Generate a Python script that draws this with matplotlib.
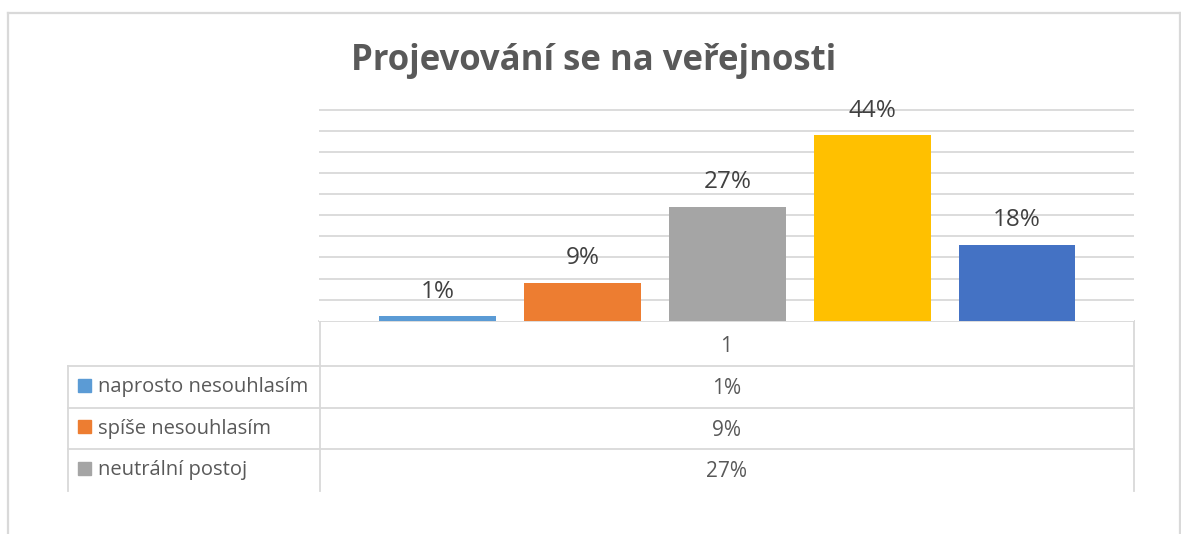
#!/usr/bin/env python3
"""Excel-style column chart with a data table underneath: 'Projevování se na veřejnosti'."""
import matplotlib
matplotlib.use("Agg")
import matplotlib.pyplot as plt
import matplotlib.patches as mpatches
import numpy as np

# --- data -------------------------------------------------------------------
TITLE = "Projevování se na veřejnosti"
CATEGORY = "1"
SERIES = ["naprosto nesouhlasím", "spíše nesouhlasím", "neutrální postoj",
          "spíše souhlasím", "naprosto souhlasím"]
VALUES = [1, 9, 27, 44, 18]          # percent
COLORS = ["#5B9BD5", "#ED7D31", "#A5A5A5", "#FFC000", "#4472C4"]
VISIBLE_ROWS = 3                     # the table is cut off after the third series

# --- layout (pixels, measured from top-left of the 1181x534 image) ----------
W, H = 1181, 534
PLOT_L, PLOT_R = 319, 1134
BASE_Y, TOP50_Y = 320.7, 110        # y of 0 % and 50 %
HEADER_B = 366
ROW_H = 41.5
LEG_L = 68
GRID = "#d9d9d9"
TXT = "#595959"

plt.rcParams["font.family"] = ["Open Sans", "DejaVu Sans"]

fig = plt.figure(figsize=(W / 100, H / 100), dpi=100)

# overlay axes in pixel coordinates for frame + data table
ov = fig.add_axes([0, 0, 1, 1])
ov.set_xlim(0, W)
ov.set_ylim(H, 0)
ov.axis("off")

# chart-area frame
ov.plot([7.5, W], [13.3, 13.3], color=GRID, lw=1.6)
ov.plot([7.5, 7.5], [13.3, H], color=GRID, lw=1.6)
ov.plot([1180, 1180], [13.3, H], color=GRID, lw=1.6)

# title
ov.text(594, 70, TITLE, ha="center", va="baseline", fontsize=25,
        fontweight="bold", color=TXT)

# --- bars -------------------------------------------------------------------
px_per_unit = (BASE_Y - TOP50_Y) / 50
top_px = TOP50_Y - 2
ax = fig.add_axes([PLOT_L / W, 1 - BASE_Y / H,
                   (PLOT_R - PLOT_L) / W, (BASE_Y - top_px) / H])
ax.set_ylim(0, (BASE_Y - top_px) / px_per_unit)
x = np.arange(len(VALUES))
ax.set_xlim(-0.819, 4.806)
ax.bar(x, VALUES, width=0.804, color=COLORS, zorder=3)
ax.set_yticks(np.arange(5, 55, 5))
ax.yaxis.grid(True, color=GRID, lw=1.3)
ax.set_axisbelow(True)
ax.tick_params(left=False, bottom=False, labelleft=False, labelbottom=False)
for s in ax.spines.values():
    s.set_visible(False)
for xi, v in zip(x, VALUES):
    ax.annotate(f"{v}%", xy=(xi, v), xytext=(0, 13.5), textcoords="offset points",
                ha="center", va="baseline", fontsize=17.5, color="#404040")

# --- data table -------------------------------------------------------------
n_rows = VISIBLE_ROWS
table_b = HEADER_B + ROW_H * n_rows
ov.plot([PLOT_L, PLOT_R], [BASE_Y, BASE_Y], color=GRID, lw=1.3)
ov.plot([PLOT_L + 1, PLOT_L + 1], [BASE_Y, table_b], color=GRID, lw=1.3)
ov.plot([PLOT_R, PLOT_R], [BASE_Y, table_b], color=GRID, lw=1.3)
ov.plot([LEG_L, LEG_L], [HEADER_B, table_b], color=GRID, lw=1.3)
for r in range(n_rows):
    yl = HEADER_B + ROW_H * r
    ov.plot([LEG_L, PLOT_R], [yl, yl], color=GRID, lw=1.3)

mid_x = (PLOT_L + PLOT_R) / 2
ov.text(mid_x, (BASE_Y + HEADER_B) / 2 + 8.5, CATEGORY, ha="center",
        va="baseline", fontsize=15, color=TXT)
for r, (name, v, c) in enumerate(zip(SERIES[:n_rows], VALUES[:n_rows],
                                     COLORS[:n_rows])):
    mid_y = HEADER_B + ROW_H * (r + 0.5)
    ov.add_patch(mpatches.Rectangle((78.3, mid_y - 8), 13, 13, color=c))
    ov.text(97.5, mid_y + 5.5, name, ha="left", va="baseline",
            fontsize=14.5, color=TXT)
    ov.text(mid_x, mid_y + 7.3, f"{v}%", ha="center", va="baseline",
            fontsize=15, color=TXT)

fig.savefig("out.png", dpi=100)
